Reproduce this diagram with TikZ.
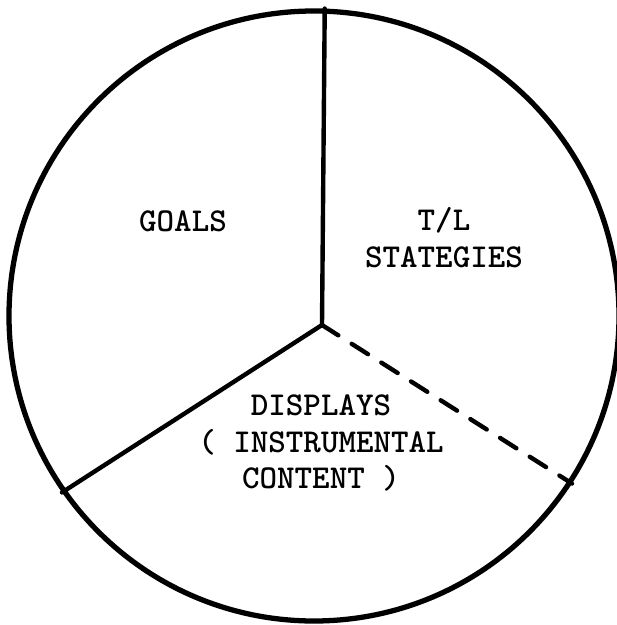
\documentclass[tikz,border=0pt]{standalone}
\usepackage{fontspec}
\usetikzlibrary{positioning, calc}

\begin{document}
\begin{tikzpicture}[x=0.02cm, y=-0.02cm,
    wedge/.style={line width=2.5pt, line cap=round},
    label/.style={font=\ttfamily\bfseries\fontsize{19}{21}\selectfont, align=center, inner sep=0pt}]
  \useasboundingbox (0,0) rectangle (616,625);
  % the circle and the meeting point of the three parts
  \node[draw, circle, line width=3pt, minimum size=610*0.02cm, inner sep=0pt] (rim) at (314,316) {};
  \coordinate (hub) at (322,325);
  \draw[wedge] (hub) -- (rim.88.5);
  \draw[wedge] (hub) -- (rim.215.5);
  \draw[wedge, dash pattern=on 11pt off 9pt] (hub) -- (rim.-33.5);
  % texts
  \node[label] (goals) at (183,221) {GOALS};
  \node[label] (tl) at (444,238) {T/L\\STATEGIES};
  \node[label] (displays) at (321,443) {DISPLAYS\\(~INSTRUMENTAL\\CONTENT~)};
\end{tikzpicture}
\end{document}
